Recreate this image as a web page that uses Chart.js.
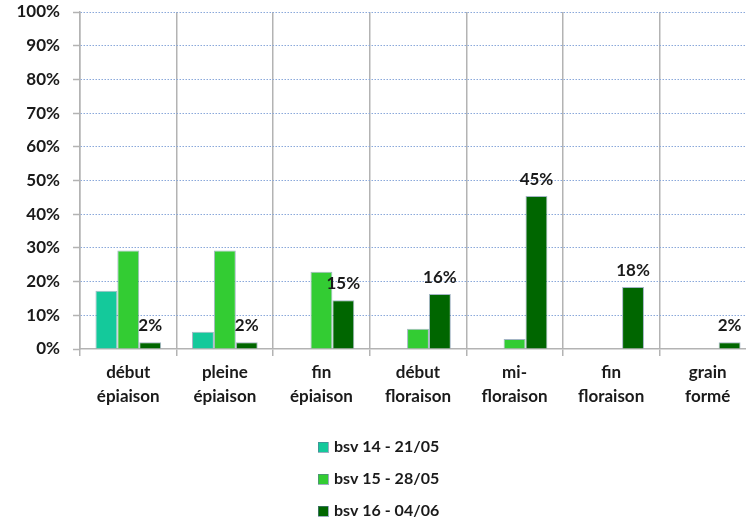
<!DOCTYPE html>
<html>
<head>
<meta charset="utf-8">
<script src="https://cdn.jsdelivr.net/npm/chart.js@4.4.1/dist/chart.umd.min.js"></script>
<style>
  html, body { margin: 0; padding: 0; background: #fff; overflow: hidden; }
  #wrap { width: 760px; height: 521px; }
</style>
</head>
<body>
<div id="wrap"><canvas id="stades" width="760" height="521"></canvas></div>
<script>
// stades phénologiques - pourcentage de parcelles
var stages = [['début', 'épiaison'], ['pleine', 'épiaison'], ['fin', 'épiaison'], ['début', 'floraison'], ['mi-', 'floraison'], ['fin', 'floraison'], ['grain', 'formé']];
var bsv14 = [17.3, 5.1, 0, 0, 0, 0, 0];
var bsv15 = [29.2, 29.2, 22.9, 6, 3, 0, 0];
var bsv16 = [2, 2, 14.5, 16.3, 45.4, 18.4, 2];
var bsv16Labels = ['2%', '2%', '15%', '16%', '45%', '18%', '2%'];
var seriesNames = ['bsv 14 - 21/05', 'bsv 15 - 28/05', 'bsv 16 - 04/06'];
var yTicks = [0, 10, 20, 30, 40, 50, 60, 70, 80, 90, 100];

var barColors = ['#14c99b', '#33cc33', '#006600'];
var font = 'Lato';

// labels au-dessus de la série bsv 16 + légende verticale
var extras = {
  id: 'extras',
  afterDatasetsDraw: function(chart) {
    var ctx = chart.ctx;
    var meta = chart.getDatasetMeta(2);
    ctx.save();
    ctx.font = 'bold 17px ' + font;
    ctx.fillStyle = '#1a1a1a';
    ctx.textAlign = 'center';
    ctx.textBaseline = 'bottom';
    meta.data.forEach(function(bar, i) {
      ctx.fillText(bsv16Labels[i], bar.x, bar.y - 8);
    });

    ctx.font = 'bold 16px ' + font;
    ctx.textAlign = 'left';
    ctx.textBaseline = 'middle';
    chart.data.datasets.forEach(function(ds, i) {
      var y = 447 + i * 32;
      ctx.fillStyle = ds.backgroundColor;
      ctx.fillRect(318, y - 5, 10, 10);
      ctx.strokeStyle = 'rgba(90,120,150,0.6)';
      ctx.lineWidth = 1;
      ctx.strokeRect(318.5, y - 4.5, 10, 10);
      ctx.fillStyle = '#1a1a1a';
      ctx.fillText(ds.label, 334, y);
    });
    ctx.restore();
  }
};

var stadeChart = new Chart(document.getElementById('stades').getContext('2d'), {
  type: 'bar',
  data: {
    labels: stages,
    datasets: [
      { label: seriesNames[0], data: bsv14, backgroundColor: barColors[0] },
      { label: seriesNames[1], data: bsv15, backgroundColor: barColors[1] },
      { label: seriesNames[2], data: bsv16, backgroundColor: barColors[2] }
    ]
  },
  options: {
    responsive: false,
    animation: false,
    layout: { padding: { top: 0, right: 4, bottom: 107, left: 0 } },
    datasets: {
      bar: {
        categoryPercentage: 0.68,
        barPercentage: 1.0,
        borderWidth: 1,
        borderColor: 'rgba(90,120,150,0.55)',
        borderSkipped: 'bottom'
      }
    },
    plugins: {
      legend: { display: false },
      tooltip: { enabled: false }
    },
    scales: {
      x: {
        offset: true,
        grid: {
          offset: true,
          color: '#b3b3b3',
          lineWidth: 1.5,
          tickLength: 7,
          tickColor: '#b3b3b3'
        },
        border: { color: '#b3b3b3', width: 1.5 },
        ticks: {
          color: '#1a1a1a',
          padding: 5,
          maxRotation: 0,
          font: { family: font, size: 17, weight: 'bold', lineHeight: 1.38 }
        },
        afterFit: function(scale) { scale.height = 65; }
      },
      y: {
        min: 0,
        max: 100,
        afterBuildTicks: function(scale) {
          scale.ticks = yTicks.map(function(v) { return { value: v }; });
        },
        grid: {
          color: function(c) { return c.tick && c.tick.value === 0 ? 'rgba(0,0,0,0)' : '#8aa8da'; },
          lineWidth: 1,
          tickLength: 7,
          tickColor: '#b3b3b3',
          tickWidth: 1.5
        },
        border: { color: '#b3b3b3', width: 1.5, dash: [1.5, 1.5] },
        ticks: {
          color: '#1a1a1a',
          padding: 13,
          font: { family: font, size: 17, weight: 'bold' },
          callback: function(v) { return v + '%'; }
        },
        afterFit: function(scale) {
          scale.width = 80;
          scale.paddingTop = 12;
          scale.paddingBottom = 10;
        }
      }
    }
  },
  plugins: [extras]
});
</script>
</body>
</html>
